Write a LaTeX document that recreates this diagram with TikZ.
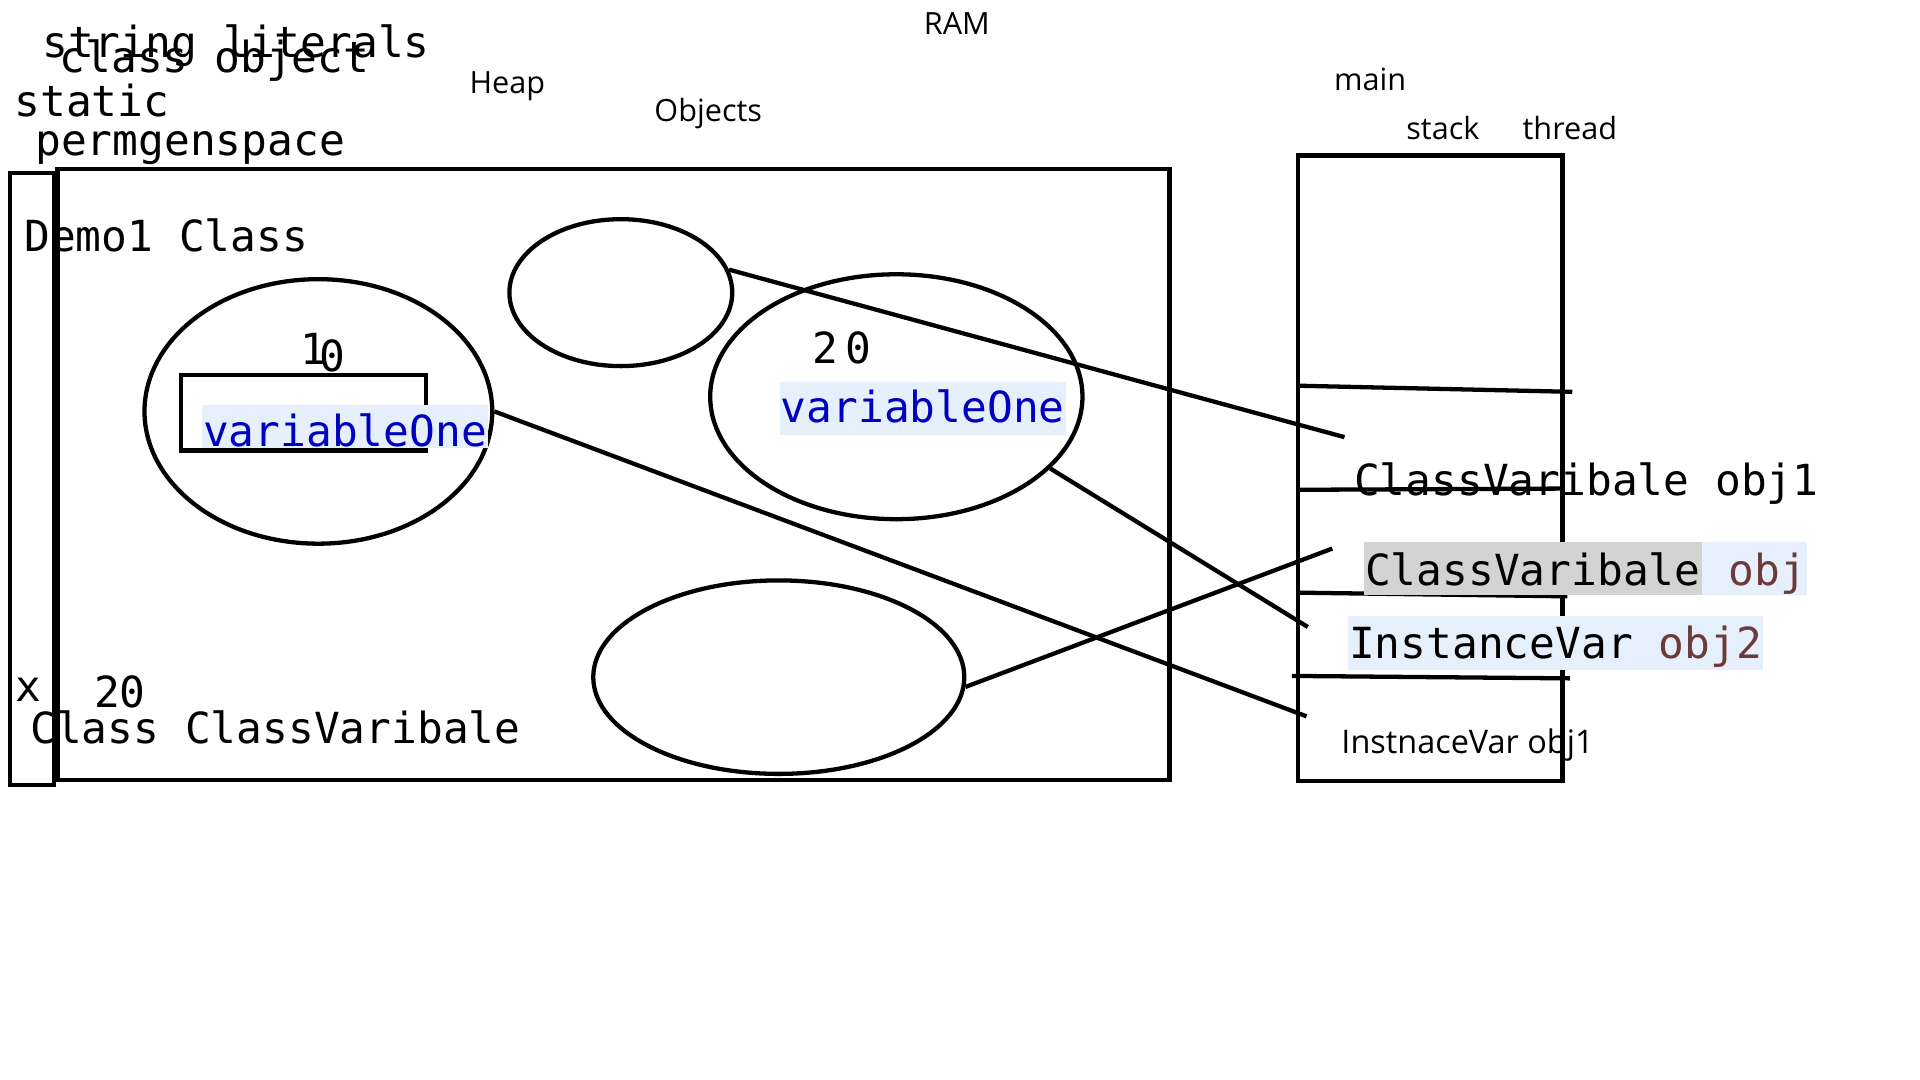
\documentclass[tikz,border=0pt]{standalone}
\usepackage{fontspec}
\setmainfont{Open Sans}
\newfontfamily\monofont{DejaVu Sans Mono}
\usepackage{xcolor}
\usepackage{tikz}
\usetikzlibrary{shapes.geometric}

\definecolor{hlblue}{HTML}{E6F0FC}
\definecolor{hlgrey}{HTML}{D3D3D3}
\definecolor{varblue}{HTML}{0000C0}
\definecolor{objbrown}{HTML}{6D3A3A}

\begin{document}
\begin{tikzpicture}[x=1pt, y=-1pt, line width=3.5pt,
    mono/.style={anchor=base west, inner sep=0pt, outer sep=0pt, xshift=1.8pt, font=\monofont\fontsize{35}{40}\selectfont},
    word/.style={anchor=base west, inner sep=0pt, outer sep=0pt, xshift=1.5pt, font=\fontsize{25}{30}\selectfont},
    blob/.style={draw, ellipse, inner sep=0pt},
    hl/.style={mono, inner xsep=1pt, fill=#1}]
            \fill[white] (0,0) rectangle (1568,882);
            \useasboundingbox (0,0) rectangle (1568,882);

            \draw (8,141) rectangle (44,641);
            \draw (47,138) rectangle (955,637);
            \draw (1060,127) rectangle (1276,638);
            \draw (1060,315) -- (1284,320);
            \draw (1060,400) -- (1276,399);
            \draw (1060,484) -- (1280,487);
            \draw (1055,552) -- (1282,554);

            \node[mono] (lit) at (33,47) {string literals};
            \node[mono] (clobj) at (47,59) {class object};
            \node[mono] (stat) at (10,95) {static};
            \node[mono] (perm) at (27,127) {permgenspace};
            \node[word] (ram) at (753,28) {RAM};
            \node[word] (heap) at (382,76) {Heap};
            \node[word] (objs) at (533,99) {Objects};
            \node[word] (main) at (1088,74) {main};
            \node[word] (stk) at (1147,114) {stack};
            \node[word] (thr) at (1242,114) {thread};

            \node[mono] (demo) at (18,205) {Demo1 Class};
            \node[blob, minimum width=284pt, minimum height=216pt] (clsobj) at (260,336) {};
            \node[blob, minimum width=182pt, minimum height=120pt] (objA) at (507,239) {};
            \node[blob, minimum width=304pt, minimum height=200pt] (objB) at (732,324) {};
            \node[blob, minimum width=303pt, minimum height=158pt] (objC) at (636,553) {};

            \draw (148,368) -- (148,306) -- (348,306) -- (348,368) -- cycle;
            \node[mono] (one) at (244,298) {1};
            \node[mono] (zero) at (259,303) {0};
            \node[hl=hlblue, text=varblue, text height=34pt, text depth=1pt] (varA) at (163,365) {variableOne};

            \node[mono] (twenty) at (662,297) {2\kern6pt0};
            \node[hl=hlblue, text=varblue, text height=33pt, text depth=10pt] (varB) at (635,345) {variableOne};

            \node[mono] (x) at (11,573) {x};
            \node[mono] (xval) at (75,578) {20};
            \node[mono] (cls) at (23,607) {Class ClassVaribale};

            \node[mono] (ref1) at (1104,405) {ClassVaribale obj1};
            \node[hl=hlgrey, text height=35pt, text depth=8pt] (ref2) at (1112,478) {ClassVaribale};
            \node[hl=hlblue, text=objbrown, text height=35pt, text depth=8pt, xshift=-1.8pt] (ref2b) at (ref2.base east) {\ obj};
            \node[hl=hlblue, text height=35pt, text depth=9pt] (ref3) at (1099,538) {InstanceVar \textcolor{objbrown}{obj2}};
            \node[word, font=\fontsize{26.5}{30}\selectfont] (ref4) at (1094,615) {InstnaceVar obj1};

            \coordinate (c1) at (1098,357);
            \coordinate (c2) at (1067,585);
            \coordinate (c3) at (1068,512);
            \coordinate (c4) at (1088,448);

            \draw (objA.12) -- (c1);
            \draw (clsobj.east) -- (c2);
            \draw (objB.-25) -- (c3);
            \draw (objC.-3) -- (c4);
        \end{tikzpicture}
\end{document}
